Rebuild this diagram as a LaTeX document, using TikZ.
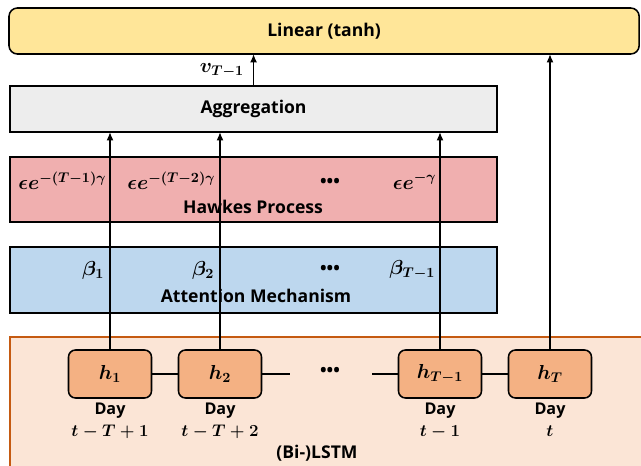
\documentclass[tikz,border=0pt]{standalone}
\usepackage{fontspec}
\setmainfont{Open Sans}
\usepackage{amsmath}
\usetikzlibrary{positioning,arrows.meta}

\definecolor{linyellow}{HTML}{FFE699}
\definecolor{agggray}{HTML}{EDEDED}
\definecolor{hawkpink}{HTML}{F0AFAF}
\definecolor{attblue}{HTML}{BDD7EE}
\definecolor{lstmbg}{HTML}{FBE5D6}
\definecolor{lstmedge}{HTML}{C55A11}
\definecolor{cellorange}{HTML}{F4B183}

\begin{document}
\begin{tikzpicture}[x=0.025cm, y=-0.025cm,
		line width=1.1pt,
		every node/.style={font=\fontsize{12.5}{15.5}\selectfont\bfseries\boldmath},
		layer/.style={draw, rectangle, anchor=north west, inner sep=0pt, outer sep=0pt},
		cell/.style={draw, rounded corners=5pt, fill=cellorange, minimum width=2.075cm, minimum height=1.2cm,
			font=\fontsize{14}{16}\selectfont\bfseries\boldmath},
		weight/.style={anchor=east, inner sep=0pt, font=\fontsize{14}{16}\selectfont\bfseries\boldmath},
		daylabel/.style={align=center, font=\fontsize{11.5}{15.5}\selectfont\bfseries\boldmath},
		up/.style={-{Latex[length=6pt,width=5pt]}}]

	\useasboundingbox (0,0) rectangle (641,466);

	% layers
	\node[layer, fill=linyellow, rounded corners=6pt, minimum width=15.75cm, minimum height=1.15cm] (lin) at (9,8) {Linear (tanh)};
	\node[layer, fill=agggray, minimum width=12.175cm, minimum height=1.15cm] (agg) at (10,86) {Aggregation};
	\node[layer, fill=hawkpink, minimum width=12.175cm, minimum height=1.625cm] (hawk) at (10,157) {};
	\node[layer, fill=attblue, minimum width=12.175cm, minimum height=1.65cm] (att) at (10,247) {};
	\node[layer, draw=lstmedge, fill=lstmbg, minimum width=16.5cm, minimum height=3.6cm] (lstm) at (10,337) {};

	% hawkes weights
	\node[weight] (e1) at (107,181) {$\epsilon e^{-(T-1)\gamma}$};
	\node[weight] (e2) at (216,181) {$\epsilon e^{-(T-2)\gamma}$};
	\node (edots) at (330,183) {•••};
	\node[weight] (e3) at (437,181) {$\epsilon e^{-\gamma}$};
	\node (hawktxt) at (253,207) {Hawkes Process};

	% attention weights
	\node[weight] (b1) at (105,270) {$\beta_1$};
	\node[weight] (b2) at (215,270) {$\beta_2$};
	\node (bdots) at (330,270) {•••};
	\node[weight] (b3) at (436,270) {$\beta_{T-1}$};
	\node (atttxt) at (256,296) {Attention Mechanism};

	% lstm cells
	\node[cell] (h1) at (110,374) {$h_1$};
	\node[cell] (h2) at (220,374) {$h_2$};
	\node[cell] (hm) at (440,374) {$h_{T-1}$};
	\node[cell] (hT) at (550,374) {$h_T$};
	\node (hdots) at (330,372) {•••};

	\node[daylabel, below=-1pt of h1] (d1) {Day\\$\boldsymbol{t-T+1}$};
	\node[daylabel, below=-1pt of h2] (d2) {Day\\$\boldsymbol{t-T+2}$};
	\node[daylabel, below=-1pt of hm] (dm) {Day\\$\boldsymbol{t-1}$};
	\node[daylabel, below=-1pt of hT] (dT) {Day\\$\boldsymbol{t}$};
	\node (lstmtxt) at (317,453) {(Bi-)LSTM};

	\coordinate (lcut) at (290,374);
	\coordinate (rcut) at (372,374);
	\draw (h1) -- (h2);
	\draw (h2.east) -- (lcut);
	\draw (rcut) -- (hm.west);
	\draw (hm) -- (hT);

	% arrows
	\draw[up] (h1.north) -- (h1.north |- agg.south);
	\draw[up] (h2.north) -- (h2.north |- agg.south);
	\draw[up] (hm.north) -- (hm.north |- agg.south);
	\draw[up] (hT.north) -- (hT.north |- lin.south);
	\draw[up] (agg.north) -- node[left=3pt, font=\fontsize{14}{16}\selectfont\bfseries\boldmath] (vlab) {$v_{T-1}$} (agg.north |- lin.south);

\end{tikzpicture}
\end{document}
